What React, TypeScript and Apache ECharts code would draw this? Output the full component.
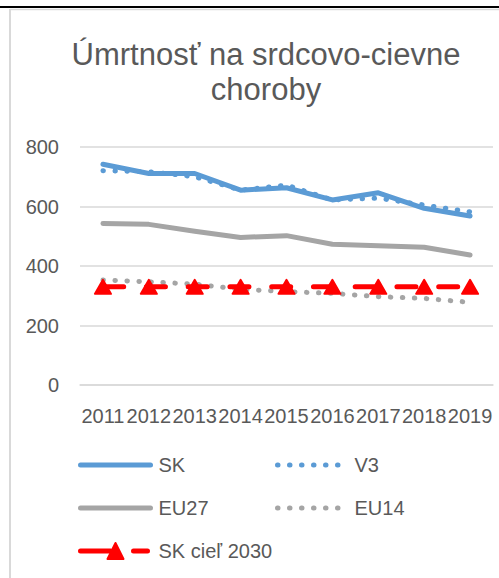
import React, { useEffect, useRef } from "react";
import * as echarts from "echarts";

const years = ["2011", "2012", "2013", "2014", "2015", "2016", "2017", "2018", "2019"];
const skValues = [742, 711, 711, 655, 663, 622, 646, 594, 568];
const v3Values = [720, 717, 700, 655, 672, 622, 628, 605, 582];
const eu27Values = [543, 540, 517, 496, 502, 473, 468, 463, 437];
const eu14Values = [353, 347, 339, 322, 314, 308, 297, 291, 278];
const targetValues = [330, 330, 330, 330, 330, 330, 330, 330, 330];
const yTicks = { min: 0, max: 800, interval: 200 };
const titleLines = ["Úmrtnosť na srdcovo-cievne", "choroby"];

const FONT = "'Liberation Sans', Arial, sans-serif";
const TEXT = "#595959";
const BLUE = "#5B9BD5";
const GRAY = "#A5A5A5";
const RED = "#FF0000";

export default function App() {
  const ref = useRef<HTMLDivElement>(null);
  useEffect(() => {
    if (!ref.current) return;
    const chart = echarts.init(ref.current, null, { renderer: "svg" });
    const dotted = [0.5, 11.5];
    const hideSymbol = { opacity: 0 };
    chart.setOption({
      animation: false,
      backgroundColor: "#ffffff",
      textStyle: { fontFamily: FONT },
      graphic: [
        { type: "line", shape: { x1: 0, y1: 7, x2: 499, y2: 7 }, style: { stroke: "#000", lineWidth: 2 } },
        { type: "line", shape: { x1: 10, y1: 9.5, x2: 499, y2: 9.5 }, style: { stroke: "#D9D9D9", lineWidth: 1.5 } },
        { type: "line", shape: { x1: 10, y1: 9, x2: 10, y2: 578 }, style: { stroke: "#D9D9D9", lineWidth: 2 } },
        {
          type: "text", x: 266, y: 54,
          style: { text: titleLines[0], font: `31px ${FONT}`, fill: TEXT, align: "center", verticalAlign: "middle" },
        },
        {
          type: "text", x: 266, y: 89,
          style: { text: titleLines[1], font: `31px ${FONT}`, fill: TEXT, align: "center", verticalAlign: "middle" },
        },
      ],
      grid: { left: 80, right: 6, top: 147, bottom: 193, containLabel: false },
      xAxis: {
        type: "category",
        data: years,
        boundaryGap: true,
        axisLine: { show: true, lineStyle: { color: "#D9D9D9", width: 1.5 } },
        axisTick: { show: false },
        axisLabel: { interval: 0, color: TEXT, fontSize: 20, fontFamily: FONT, margin: 21 },
      },
      yAxis: {
        type: "value",
        min: yTicks.min,
        max: yTicks.max,
        interval: yTicks.interval,
        axisLine: { show: false },
        axisTick: { show: false },
        splitLine: { lineStyle: { color: "#D9D9D9", width: 1.5 } },
        axisLabel: { color: TEXT, fontSize: 20, fontFamily: FONT, margin: 21 },
      },
      legend: [
        {
          orient: "vertical",
          left: 78,
          top: 455,
          padding: 0,
          itemWidth: 70,
          itemHeight: 20,
          itemGap: 23,
          lineStyle: { width: 5, cap: "round" },
          textStyle: { color: TEXT, fontSize: 20, fontFamily: FONT, lineHeight: 20, padding: [0, 0, 0, 3] },
          data: [
            { name: "SK", itemStyle: hideSymbol },
            { name: "EU27", itemStyle: hideSymbol },
            { name: "SK cieľ 2030", lineStyle: { type: [23, 14, 33] } },
          ],
        },
        {
          orient: "vertical",
          left: 275,
          top: 455,
          padding: 0,
          itemWidth: 66,
          itemHeight: 20,
          itemGap: 23,
          lineStyle: { width: 5, cap: "round" },
          textStyle: { color: TEXT, fontSize: 20, fontFamily: FONT, lineHeight: 20, padding: [0, 0, 0, 6] },
          data: [
            { name: "V3", itemStyle: hideSymbol },
            { name: "EU14", itemStyle: hideSymbol },
          ],
        },
      ],
      series: [
        {
          name: "SK", type: "line", data: skValues, symbol: "none",
          lineStyle: { color: BLUE, width: 5, cap: "round", join: "round" },
          itemStyle: { color: BLUE },
        },
        {
          name: "V3", type: "line", data: v3Values, symbol: "none",
          lineStyle: { color: BLUE, width: 5, type: dotted, cap: "round" },
          itemStyle: { color: BLUE },
        },
        {
          name: "EU27", type: "line", data: eu27Values, symbol: "none",
          lineStyle: { color: GRAY, width: 5, cap: "round", join: "round" },
          itemStyle: { color: GRAY },
        },
        {
          name: "EU14", type: "line", data: eu14Values, symbol: "none",
          lineStyle: { color: GRAY, width: 5, type: dotted, cap: "round" },
          itemStyle: { color: GRAY },
        },
        {
          name: "SK cieľ 2030", type: "line", data: targetValues,
          symbol: "triangle", symbolSize: [16, 14],
          lineStyle: { color: RED, width: 5, type: [19, 22.75], dashOffset: 39.75, cap: "round" },
          itemStyle: { color: RED, borderColor: RED, borderWidth: 2, borderJoin: "round" },
        },
      ],
    });
    return () => chart.dispose();
  }, []);
  return (
    <div
      ref={ref}
      style={{ position: "fixed", left: 0, top: 0, width: 499, height: 578 }}
    />
  );
}
